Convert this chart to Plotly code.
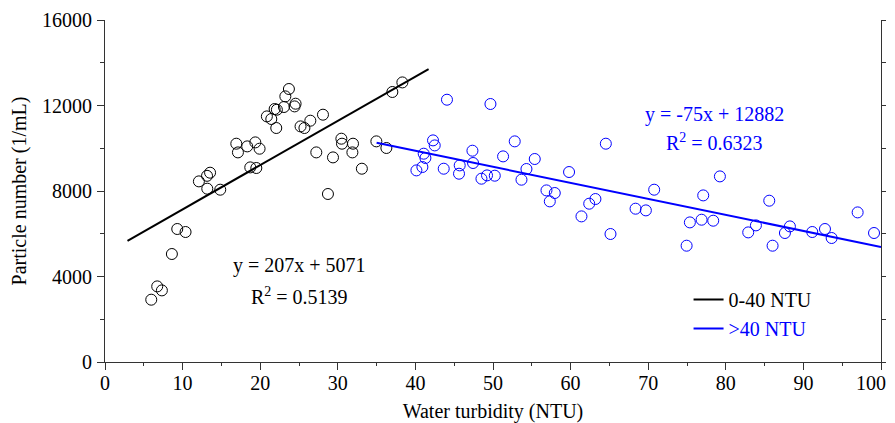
import numpy as np
import plotly.graph_objects as go

# ---- data ----
low_x = [5.96, 6.73, 7.33, 8.62, 9.31, 10.38, 12.1, 13.15, 13.54, 13.18, 14.85,
         16.92, 17.13, 18.33, 19.37, 19.92, 18.72, 19.5,
         20.86, 21.43, 22.07, 21.86, 22.15, 23.06, 23.24, 23.7, 24.56, 24.43,
         25.2, 25.7, 26.46, 28.09, 27.23, 29.38, 30.46, 30.54, 31.96, 31.88,
         33.1, 28.73, 34.97, 36.26, 37.03, 38.32]
low_y = [2915, 3537, 3350, 5052, 6222, 6082, 8450, 8710, 8856, 8108, 8061,
         10213, 9806, 10087, 10274, 9979, 9104, 9076,
         11490, 11368, 10947, 11836, 11803, 11930, 12426, 12772, 12084, 11958,
         11022, 10947, 11289, 11570, 9806, 9572, 10447, 10213, 10213, 9806,
         9043, 7860, 10322, 10012, 12632, 13080]

high_x = [44.07, 49.67, 42.27, 42.49, 41.07, 41.29, 40.13, 40.9, 43.65, 45.71,
          45.62, 47.35, 47.43, 48.51, 49.23, 50.23, 51.3, 52.8, 53.67, 54.31,
          55.38, 56.89, 57.96, 57.32, 64.54, 59.8, 61.4, 62.4, 63.2, 65.14,
          68.37, 69.7, 70.77, 74.95, 75.37, 76.88, 77.09, 78.38, 79.24,
          82.89, 83.88, 85.6, 86.03, 87.62, 88.26, 91.14, 92.78, 93.64, 96.99, 99.1]
high_y = [12271, 12070, 10368, 10133, 9745, 9543, 8964, 9123, 9043, 9198,
          8809, 9885, 9310, 8576, 8730, 8716, 9619, 10322, 8529, 9029,
          9497, 8028, 7906, 7514, 10213, 8888, 6812, 7406, 7625, 5988,
          7172, 7093, 8061, 5441, 6531, 6657, 7794, 6610, 8683,
          6063, 6391, 7546, 5441, 6035, 6344, 6082, 6222, 5801, 6999, 6035]

# regression lines (slope, intercept) and their x extents
low_fit = (207, 5071)
low_fit_x = [2.9, 41.7]
high_fit = (-75, 12882)
high_fit_x = [35.0, 100.0]

x_ticks = [0, 10, 20, 30, 40, 50, 60, 70, 80, 90, 100]
y_ticks = [0, 4000, 8000, 12000, 16000]

FONT = "Liberation Serif"
FS = 20
BLUE = "#0000ff"
AX = "#333"

# last x label is padded so that it stays inside the visible page edge
x_ticktext = [str(v) for v in x_ticks]
x_ticktext[-1] = x_ticktext[-1] + "&nbsp;" * 4

fig = go.Figure()

fig.add_trace(go.Scatter(x=low_x, y=low_y, mode="markers", showlegend=False,
                         marker=dict(symbol="circle-open", size=11,
                                     color="black", line=dict(width=1))))
fig.add_trace(go.Scatter(x=high_x, y=high_y, mode="markers", showlegend=False,
                         marker=dict(symbol="circle-open", size=11,
                                     color=BLUE, line=dict(width=1))))

lx = np.array(low_fit_x)
fig.add_trace(go.Scatter(x=lx, y=low_fit[0] * lx + low_fit[1], mode="lines",
                         name="0-40 NTU", line=dict(color="black", width=2)))
hx = np.array(high_fit_x)
fig.add_trace(go.Scatter(x=hx, y=high_fit[0] * hx + high_fit[1], mode="lines",
                         name="<span style='color:#0000ff'>&gt;40 NTU</span>",
                         line=dict(color=BLUE, width=2)))
# invisible trace to create the right-hand mirror axis
fig.add_trace(go.Scatter(x=[None], y=[None], yaxis="y2", showlegend=False))

fig.add_annotation(x=25.0, y=4520, text="y = 207x + 5071", showarrow=False,
                   font=dict(family=FONT, size=FS, color="black"))
fig.add_annotation(x=25.0, y=3100, text="R<sup>2</sup> = 0.5139", showarrow=False,
                   font=dict(family=FONT, size=FS, color="black"))
fig.add_annotation(x=78.6, y=11570, text="y = -75x + 12882", showarrow=False,
                   font=dict(family=FONT, size=FS, color=BLUE))
fig.add_annotation(x=78.5, y=10310, text="R<sup>2</sup> = 0.6323", showarrow=False,
                   font=dict(family=FONT, size=FS, color=BLUE))

# the page body adds an 8 px offset; size/margins compensate for it
fig.update_layout(
    width=887, height=415,
    margin=dict(l=97, r=14, t=12, b=61, autoexpand=False),
    paper_bgcolor="white", plot_bgcolor="white",
    font=dict(family=FONT, size=FS, color="black"),
    showlegend=True,
    legend=dict(x=0.752, y=0.240, xanchor="left", yanchor="top",
                bgcolor="rgba(0,0,0,0)", font=dict(family=FONT, size=FS),
                tracegroupgap=0, itemwidth=30),
    xaxis=dict(range=[0, 100], tickvals=x_ticks, ticktext=x_ticktext,
               automargin=False, ticklabeloverflow="allow",
               showgrid=False, zeroline=False, showline=True, linecolor=AX,
               linewidth=1, ticks="outside", ticklen=7, tickcolor=AX,
               ticklabelstandoff=-4,
               tickfont=dict(family=FONT, size=FS),
               minor=dict(dtick=5, ticks="outside", ticklen=3, tickcolor=AX),
               title=dict(text="Water turbidity (NTU)", standoff=11,
                          font=dict(family=FONT, size=FS))),
    yaxis=dict(range=[0, 16000], tickvals=y_ticks, ticktext=[str(v) for v in y_ticks],
               automargin=False, ticklabeloverflow="allow",
               showgrid=False, zeroline=False, showline=True, linecolor=AX,
               linewidth=1, ticks="outside", ticklen=7, tickcolor=AX,
               ticklabelstandoff=1,
               tickfont=dict(family=FONT, size=FS),
               minor=dict(dtick=2000, ticks="outside", ticklen=4, tickcolor=AX),
               title=dict(text="Particle number (1/mL)", standoff=12,
                          font=dict(family=FONT, size=FS))),
    yaxis2=dict(range=[0, 16000], overlaying="y", side="right", dtick=2000,
                automargin=False,
                showticklabels=False, showgrid=False, zeroline=False,
                showline=True, linecolor=AX, linewidth=1,
                ticks="outside", ticklen=4, tickcolor=AX),
)

fig.write_html("out.html")
